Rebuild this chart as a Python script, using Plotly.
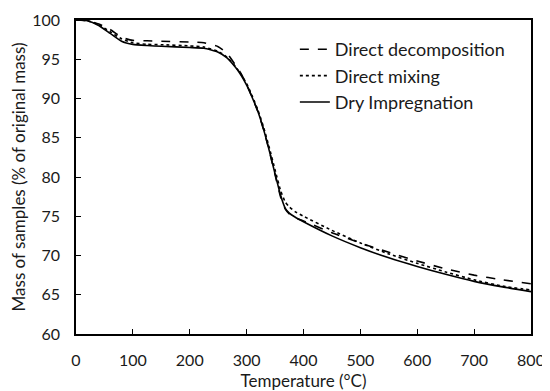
import plotly.graph_objects as go

temperature = [0, 20, 40, 60, 80, 100, 125, 150, 200, 225, 250, 265, 280, 290, 300, 310, 320,
               330, 340, 350, 360, 368, 375, 385, 400, 450, 500, 550, 600, 650, 700, 750, 800]

direct_decomposition = [100, 99.9, 99.5, 98.8, 97.8, 97.4, 97.35, 97.3, 97.2, 97.1, 96.6, 95.8,
                        94.3, 93.2, 91.8, 90.1, 88.3, 86.0, 83.3, 80.3, 77.4, 75.9, 75.3, 74.8,
                        74.4, 72.9, 71.6, 70.4, 69.3, 68.3, 67.5, 66.9, 66.4]
direct_mixing = [100, 99.9, 99.4, 98.5, 97.6, 97.1, 96.9, 96.85, 96.7, 96.55, 96.0, 95.3,
                 94.1, 93.1, 91.9, 90.3, 88.5, 86.3, 83.7, 80.9, 78.2, 76.8, 76.2, 75.6,
                 75.0, 73.2, 71.6, 70.2, 69.0, 67.9, 66.9, 66.1, 65.6]
dry_impregnation = [100, 99.9, 99.3, 98.3, 97.3, 96.9, 96.75, 96.65, 96.5, 96.4, 95.9, 95.2,
                    94.0, 93.0, 91.7, 90.1, 88.3, 86.0, 83.3, 80.4, 77.6, 76.0, 75.4, 74.9,
                    74.3, 72.5, 71.0, 69.7, 68.6, 67.6, 66.7, 66.0, 65.4]

series = [
    ("Direct decomposition", direct_decomposition, "dash"),
    ("Direct mixing", direct_mixing, "dot"),
    ("Dry Impregnation", dry_impregnation, "solid"),
]

FONT = "Lato, 'Open Sans', sans-serif"
TXT = "#1a1a1a"

fig = go.Figure()
for i, (name, vals, dash) in enumerate(series):
    fig.add_trace(go.Scatter(
        x=temperature, y=vals, name=name, mode="lines",
        line=dict(color="black", width=1.6, dash=dash, shape="spline", smoothing=0.5),
        legendgroup=f"g{i}",
    ))

axis_common = dict(
    showline=True, linecolor="black", linewidth=1.5, mirror=True,
    ticks="inside", ticklen=5, tickwidth=1.2, tickcolor="black",
    showgrid=False, zeroline=False, automargin=False,
    tickfont=dict(family=FONT, size=16, color=TXT),
)

fig.update_xaxes(range=[0, 800], dtick=100, ticklabelstandoff=11,
                 title=dict(text="Temperature (°C)", font=dict(family=FONT, size=17, color=TXT),
                            standoff=7),
                 **axis_common)
fig.update_yaxes(range=[60, 100], dtick=5, ticklabelstandoff=11,
                 title=dict(text="Mass of samples (% of original mass)",
                            font=dict(family=FONT, size=17, color=TXT), standoff=6),
                 **axis_common)

# page body has an 8px margin, so the figure is shrunk by that amount
fig.update_layout(
    width=542, height=383,
    margin=dict(l=68, r=19, t=12, b=57),
    paper_bgcolor="white", plot_bgcolor="white",
    font=dict(family=FONT, size=16, color=TXT),
    legend=dict(x=0.481, y=0.965, xanchor="left", yanchor="top",
                bgcolor="rgba(0,0,0,0)", tracegroupgap=0,
                font=dict(family=FONT, size=18, color=TXT)),
    showlegend=True,
)

fig.write_html("out.html")
